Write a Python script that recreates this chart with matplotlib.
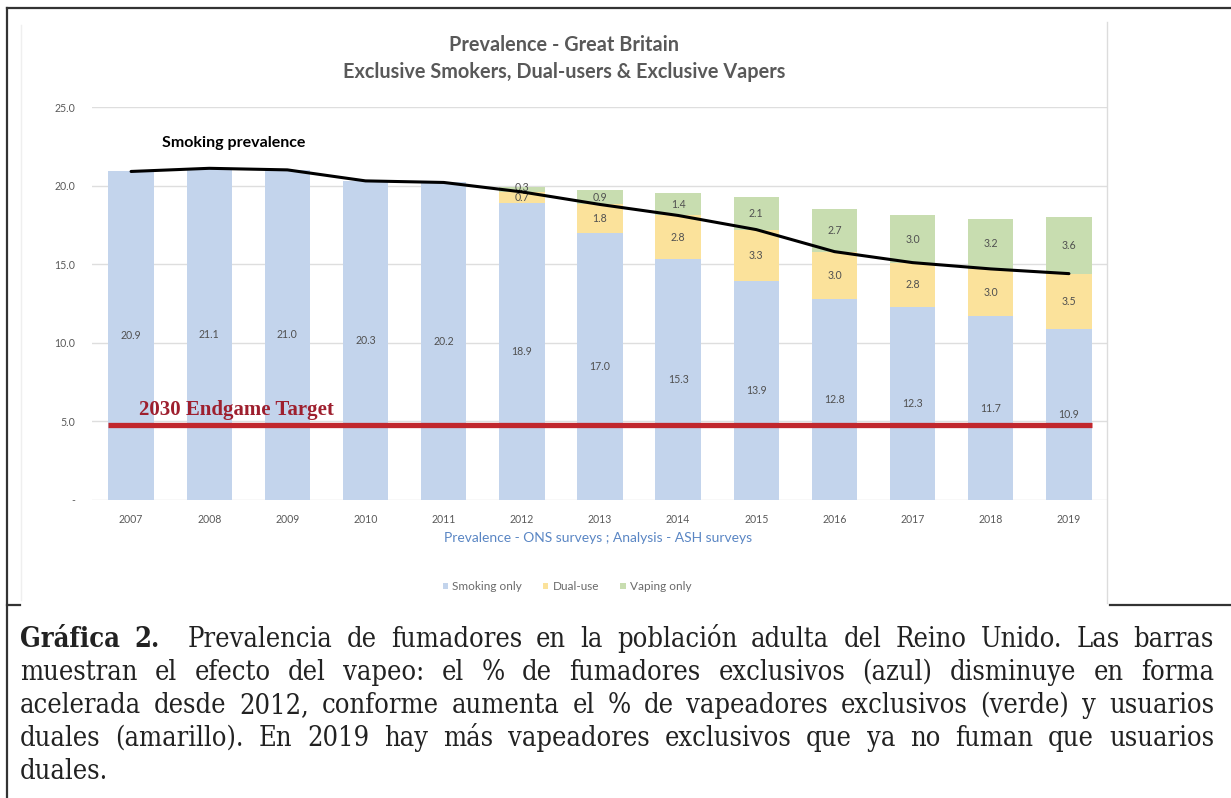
import matplotlib
matplotlib.use("Agg")
import matplotlib.pyplot as plt
import numpy as np
from matplotlib.lines import Line2D
from matplotlib.patches import Patch

# ---------------- data ----------------
years = ["2007", "2008", "2009", "2010", "2011", "2012", "2013",
         "2014", "2015", "2016", "2017", "2018", "2019"]
smoking_only = [20.9, 21.1, 21.0, 20.3, 20.2, 18.9, 17.0, 15.3, 13.9, 12.8, 12.3, 11.7, 10.9]
dual_use = [0, 0, 0, 0, 0, 0.7, 1.8, 2.8, 3.3, 3.0, 2.8, 3.0, 3.5]
vaping_only = [0, 0, 0, 0, 0, 0.3, 0.9, 1.4, 2.1, 2.7, 3.0, 3.2, 3.6]
smoking_prevalence = [20.9, 21.1, 21.0, 20.3, 20.2, 19.6, 18.8, 18.1, 17.2, 15.8, 15.1, 14.7, 14.4]
target_value = 4.8
yticks = [0, 5, 10, 15, 20, 25]
ytick_labels = ["-", "5.0", "10.0", "15.0", "20.0", "25.0"]
series_names = ["Smoking only", "Dual-use", "Vaping only"]

caption_lines = [
    [("Gráfica", "bold"), ("2.", "bold"), ("", None), ("Prevalencia", "normal"), ("de", "normal"),
     ("fumadores", "normal"), ("en", "normal"), ("la", "normal"), ("población", "normal"),
     ("adulta", "normal"), ("del", "normal"), ("Reino", "normal"), ("Unido.", "normal"),
     ("Las", "normal"), ("barras", "normal")],
    "muestran el efecto del vapeo: el % de fumadores exclusivos (azul) disminuye en forma",
    "acelerada desde 2012, conforme aumenta el % de vapeadores exclusivos (verde) y usuarios",
    "duales (amarillo). En 2019 hay más vapeadores exclusivos que ya no fuman que usuarios",
    "duales.",
]

# ---------------- styling ----------------
W, H = 1231, 798
c_blue = "#c3d4ec"
c_yellow = "#fbe29b"
c_green = "#c8ddb0"
c_red = "#c1272d"
sans = ["Lato", "DejaVu Sans"]

fig = plt.figure(figsize=(W / 100, H / 100), dpi=100)
fig.patch.set_facecolor("white")

def fx(px):
    return px / W

def fy(py):
    return 1 - py / H

# outer document frame
frame_col = "#333333"
fig.add_artist(Line2D([fx(7), 1.0], [fy(8), fy(8)], color=frame_col, lw=1.6))
fig.add_artist(Line2D([fx(7), fx(7)], [fy(8), 0.0], color=frame_col, lw=1.6))
fig.add_artist(Line2D([fx(7), fx(20)], [fy(605), fy(605)], color=frame_col, lw=1.6))
fig.add_artist(Line2D([fx(1110), 1.0], [fy(605), fy(605)], color=frame_col, lw=1.6))
# faint borders of the embedded chart image
fig.add_artist(Line2D([fx(21), fx(21)], [fy(25), fy(600)], color="#efefef", lw=1.0))
fig.add_artist(Line2D([fx(1107), fx(1107)], [fy(22), fy(603)], color="#dcdcdc", lw=1.0))

# ---------------- axes ----------------
ax = fig.add_axes([fx(92), fy(500), fx(1108) - fx(92), fy(107) - fy(500)])
x = np.arange(len(years))
bw = 0.58
s = np.array(smoking_only)
d = np.array(dual_use)
v = np.array(vaping_only)
ax.bar(x, s, width=bw, color=c_blue, zorder=2)
ax.bar(x, d, width=bw, bottom=s, color=c_yellow, zorder=2)
ax.bar(x, v, width=bw, bottom=s + d, color=c_green, zorder=2)

lab_kw = dict(ha="center", fontsize=7.6, color="#505050", family=sans, zorder=4)
for i in range(len(years)):
    ax.text(x[i], s[i] / 2, f"{s[i]:.1f}", va="center", **lab_kw)
    small = 0 < v[i] < 0.5
    if d[i] > 0:
        if small:
            ax.text(x[i], s[i] + d[i], f"{d[i]:.1f}", va="top", **lab_kw)
        else:
            ax.text(x[i], s[i] + d[i] / 2, f"{d[i]:.1f}", va="center", **lab_kw)
    if v[i] > 0:
        if small:
            ax.text(x[i], s[i] + d[i] - 0.05, f"{v[i]:.1f}", va="bottom", **lab_kw)
        else:
            ax.text(x[i], s[i] + d[i] + v[i] / 2, f"{v[i]:.1f}", va="center", **lab_kw)

ax.plot(x, smoking_prevalence, color="black", lw=2.2, zorder=5, solid_capstyle="round")
ax.plot([x[0] - bw / 2, x[-1] + bw / 2], [target_value, target_value], color=c_red, lw=3.8,
        zorder=6, solid_capstyle="butt")

ax.text(0.1, target_value + 0.3, "2030 Endgame Target", ha="left", va="bottom",
        fontsize=15, fontweight="bold", color="#9e1f2e", family=["Liberation Serif", "DejaVu Serif"],
        zorder=7)
ax.text(0.39, 22.7, "Smoking prevalence", ha="left", va="center", fontsize=11.5,
        fontweight="bold", color="black", family=sans, zorder=7)

ax.set_xlim(-0.5, len(years) - 0.5)
ax.set_ylim(0, 25)
ax.set_yticks(yticks)
ax.set_yticklabels(ytick_labels)
ax.set_xticks(x)
ax.set_xticklabels(years)
ax.grid(axis="y", color="#dedede", lw=1.0, zorder=0)
ax.set_axisbelow(True)
for sp in ax.spines.values():
    sp.set_visible(False)
ax.tick_params(axis="both", length=0, labelsize=7.6, labelcolor="#5a5a5a")
ax.tick_params(axis="y", pad=12)
ax.tick_params(axis="x", pad=10)
for t in ax.get_xticklabels() + ax.get_yticklabels():
    t.set_family(sans)

# titles
fig.text(fx(564), fy(45), "Prevalence - Great Britain", ha="center", va="center",
         fontsize=14.3, fontweight="bold", color="#595959", family=sans)
fig.text(fx(564), fy(72), "Exclusive Smokers, Dual-users & Exclusive Vapers", ha="center",
         va="center", fontsize=14.3, fontweight="bold", color="#595959", family=sans)
fig.text(fx(598), fy(538), "Prevalence - ONS surveys ; Analysis - ASH surveys", ha="center",
         va="center", fontsize=10, color="#5a86c4", family=sans)

handles = [Patch(facecolor=c, edgecolor="none") for c in (c_blue, c_yellow, c_green)]
leg = fig.legend(handles, series_names, loc="center", bbox_to_anchor=(fx(567), fy(587)),
                 ncol=3, frameon=False, handlelength=0.45, handleheight=0.45,
                 handletextpad=0.35, columnspacing=1.8, prop={"family": sans, "size": 8.5})
for t in leg.get_texts():
    t.set_color("#6a6a6a")

# ---------------- caption (justified) ----------------
serif = ["DejaVu Serif"]
stretch = "condensed"
renderer = fig.canvas.get_renderer()

def tokens(line):
    if isinstance(line, str):
        return [(w, "normal") for w in line.split(" ")]
    return line

def width_of(word, weight, size):
    if not word:
        return 0.0
    t = fig.text(0, 0, word, fontsize=size, fontweight=weight, family=serif, fontstretch=stretch)
    w = t.get_window_extent(renderer).width
    t.remove()
    return w

x0, x1 = 20, 1214
base = 10.0
space_base = width_of("a a", "normal", base) - 2 * width_of("a", "normal", base)
nat = []
for line in caption_lines[:-1]:
    toks = tokens(line)
    ws = sum(width_of(w, wt, base) for w, wt in toks)
    nat.append(ws + space_base * (len(toks) - 1))
size = min(base * (x1 - x0) / max(nat) * 0.995, 19.5)

baselines = [647, 680, 713, 746, 779]
for li, line in enumerate(caption_lines):
    toks = tokens(line)
    widths = [width_of(w, wt, size) for w, wt in toks]
    last = li == len(caption_lines) - 1
    if last or len(toks) == 1:
        gap = space_base * size / base
    else:
        gap = ((x1 - x0) - sum(widths)) / (len(toks) - 1)
    xp = x0
    for (w, wt), wd in zip(toks, widths):
        if w:
            fig.text(fx(xp), fy(baselines[li]), w, fontsize=size, fontweight=wt,
                     family=serif, fontstretch=stretch, color="#222222",
                     ha="left", va="baseline")
        xp += wd + gap

fig.savefig("out.png", dpi=100, facecolor="white")
